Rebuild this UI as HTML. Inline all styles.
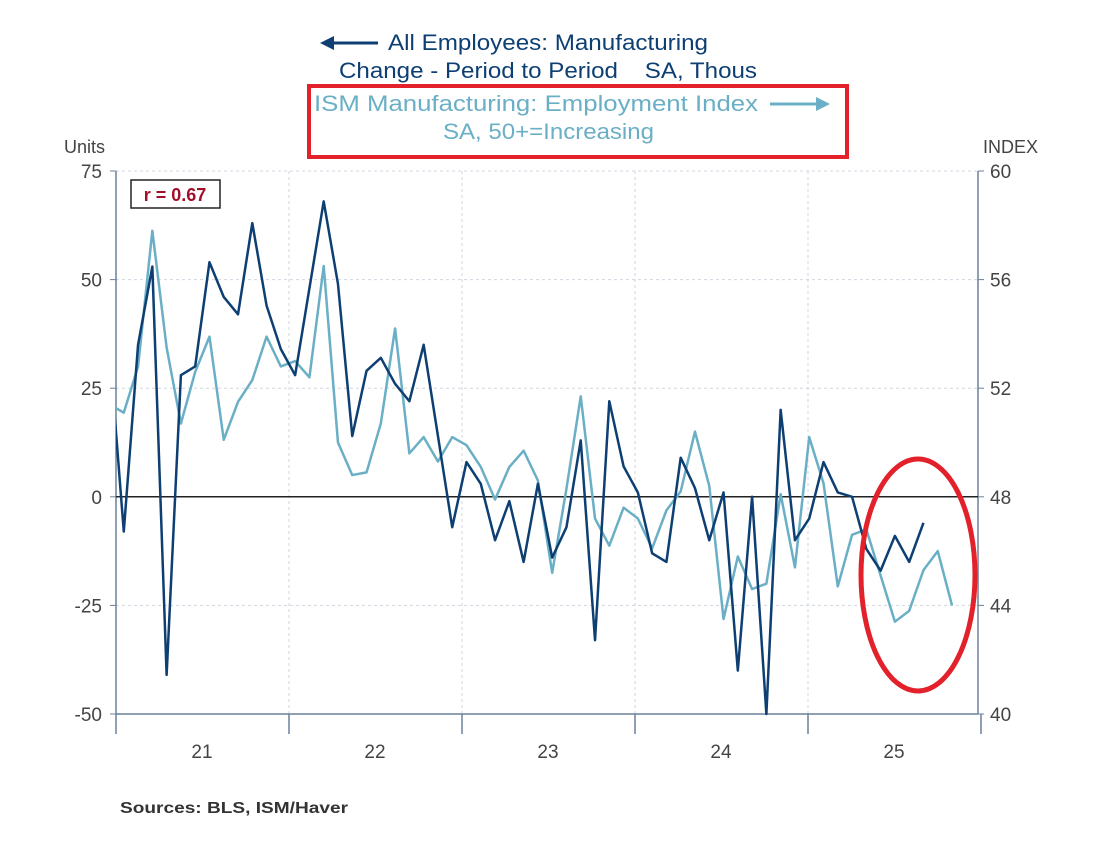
<!DOCTYPE html>
<html><head><meta charset="utf-8">
<style>
body{margin:0;background:#fff;}
svg{display:block;font-family:"Liberation Sans",sans-serif;}
</style></head>
<body>
<svg id="chart" width="1096" height="845" viewBox="0 0 1096 845">
  <g font-size="22">
    <line x1="330" y1="43" x2="378" y2="43" stroke="#0d3f73" stroke-width="3"/>
    <polygon points="320,43 334,36 334,50" fill="#0d3f73"/>
    <text x="388" y="50" fill="#0d3f73" textLength="320" lengthAdjust="spacingAndGlyphs">All Employees: Manufacturing</text>
    <text x="339" y="78" fill="#0d3f73" textLength="418" lengthAdjust="spacingAndGlyphs">Change - Period to Period &#160;&#160;&#160;SA, Thous</text>
    <text x="314" y="111" fill="#6aafc5" textLength="444" lengthAdjust="spacingAndGlyphs">ISM Manufacturing: Employment Index</text>
    <line x1="770" y1="104" x2="818" y2="104" stroke="#6aafc5" stroke-width="3"/>
    <polygon points="830,104 816,97 816,111" fill="#6aafc5"/>
    <text x="443" y="139" fill="#6aafc5" textLength="211" lengthAdjust="spacingAndGlyphs">SA, 50+=Increasing</text>
    <rect x="309" y="86" width="538" height="71" fill="none" stroke="#e3212b" stroke-width="4"/>
  </g>
  <text x="64" y="153" font-size="18" fill="#444">Units</text>
  <text x="983" y="153" font-size="18" fill="#444">INDEX</text>
  <g id="grid"></g>
  <g id="axes"></g>
  <g id="series"></g>
  <g>
    <rect x="131" y="180" width="89" height="28" fill="#fff" stroke="#222" stroke-width="1.5"/>
    <text x="175" y="201" font-size="18" font-weight="bold" fill="#a0102a" text-anchor="middle">r = 0.67</text>
  </g>
  <ellipse cx="918" cy="575" rx="57" ry="116" fill="none" stroke="#e3212b" stroke-width="5"/>
  <text x="120" y="813" font-size="16" font-weight="bold" fill="#333" textLength="228" lengthAdjust="spacingAndGlyphs">Sources:  BLS, ISM/Haver</text>
</svg>
<script>
// months from Dec 2020
const employeesChange = [34,-8,35,53,-41,28,30,54,46,42,63,44,34,28,48,68,49,14,29,32,26,22,35,14,-7,8,3,-10,-1,-15,3,-14,-7,13,-33,22,7,1,-13,-15,9,2,-10,1,-40,0,-50,20,-10,-5,8,1,0,-12,-17,-9,-15,-6];
const ismEmployment = [51.4,51.1,52.8,57.8,53.5,50.7,52.6,53.9,50.1,51.5,52.3,53.9,52.8,53.0,52.4,56.5,50.0,48.8,48.9,50.7,54.2,49.6,50.2,49.3,50.2,49.9,49.1,47.9,49.1,49.7,48.6,45.2,48.3,51.7,47.2,46.2,47.6,47.2,46.1,47.5,48.2,50.4,48.4,43.5,45.8,44.6,44.8,48.1,45.4,50.2,48.5,44.7,46.6,46.8,45.1,43.4,43.8,45.3,46.0,44.0];
const leftTicks = [75,50,25,0,-25,-50];
const rightTicks = [60,56,52,48,44,40];
const yearLabels = ["21","22","23","24","25"];

const NS="http://www.w3.org/2000/svg";
const L=116,R=978,T=171,B=714;
const xM=i=>109.5+14.28*i;
const yL=v=>T+(75-v)*(B-T)/125;
const yR=v=>T+(60-v)*(B-T)/20;
const yearX=k=>116+k*173;
function mk(tag,attrs,parent){const e=document.createElementNS(NS,tag);for(const k in attrs)e.setAttribute(k,attrs[k]);parent.appendChild(e);return e;}
const grid=document.getElementById('grid'),axes=document.getElementById('axes'),series=document.getElementById('series');
leftTicks.forEach((v,i)=>{
  if(v!==0&&v!==-50){const g=mk('line',{x1:L,x2:R,y1:yL(v),y2:yL(v),stroke:'#cfd6de','stroke-dasharray':'3,3'},grid);
  
  }
  const t=mk('text',{x:102,y:yL(v)+7,'font-size':19,fill:'#444','text-anchor':'end'},axes);t.textContent=v;
  
  
  mk('line',{x1:L-6,x2:L,y1:yL(v),y2:yL(v),stroke:'#6b809a'},axes);
});
rightTicks.forEach(v=>{
  const t=mk('text',{x:990,y:yR(v)+7,'font-size':19,fill:'#444'},axes);t.textContent=v;
  
  
  mk('line',{x1:R,x2:R+6,y1:yR(v),y2:yR(v),stroke:'#6b809a'},axes);
});
for(let k=1;k<5;k++){const g=mk('line',{x1:yearX(k),x2:yearX(k),y1:T,y2:B,stroke:'#cfd6de','stroke-dasharray':'3,3'},grid);
  
  }
for(let k=0;k<=5;k++){mk('line',{x1:yearX(k),x2:yearX(k),y1:B,y2:B+20,stroke:'#6b809a','stroke-width':1.5},axes);}
yearLabels.forEach((lab,k)=>{const t=mk('text',{x:yearX(k)+86,y:758,'font-size':19,fill:'#444','text-anchor':'middle'},axes);t.textContent=lab;
  
  });
const la=mk('line',{x1:L,x2:L,y1:T,y2:B,stroke:'#6b809a','stroke-width':1.5},axes);


const ra=mk('line',{x1:R,x2:R,y1:T,y2:B,stroke:'#6b809a','stroke-width':1.5},axes);


const ba=mk('line',{x1:L,x2:R,y1:B,y2:B,stroke:'#6b809a','stroke-width':1.5},axes);


const zl=mk('line',{x1:L,x2:R,y1:yL(0),y2:yL(0),stroke:'#222','stroke-width':1.5},axes);


mk('clipPath',{id:'clip'},series);
mk('rect',{x:L,y:T-10,width:R-L,height:B-T+20},series.lastChild);
const ism=mk('polyline',{points:ismEmployment.map((v,i)=>xM(i)+','+yR(v)).join(' '),fill:'none',stroke:'#6aafc5','stroke-width':2.5,'stroke-linejoin':'round','clip-path':'url(#clip)'},series);


const emp=mk('polyline',{points:employeesChange.map((v,i)=>xM(i)+','+yL(v)).join(' '),fill:'none',stroke:'#0d3f73','stroke-width':2.5,'stroke-linejoin':'round','clip-path':'url(#clip)'},series);


</script>
</body></html>
